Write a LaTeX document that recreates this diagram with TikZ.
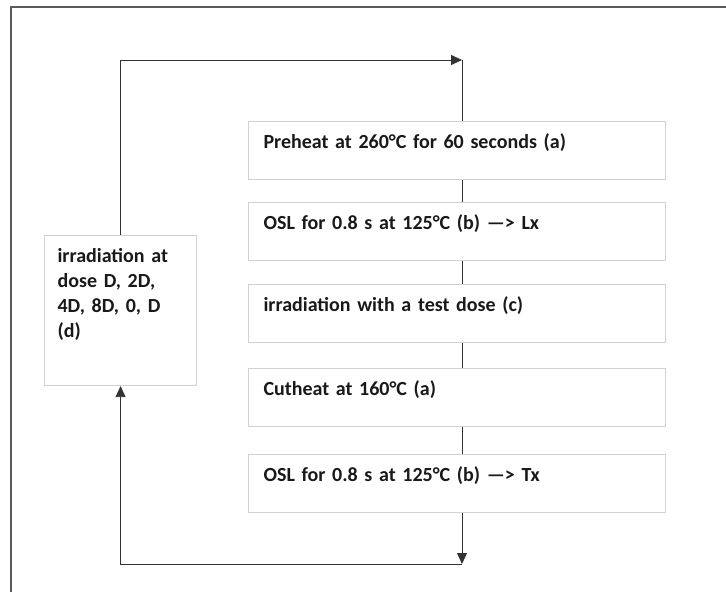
\documentclass[tikz,border=0pt]{standalone}
\usepackage{fontspec}
\setmainfont{Carlito}
\usetikzlibrary{arrows.meta}
\definecolor{boxgray}{HTML}{D2D2D2}
\definecolor{linegray}{HTML}{333333}
\definecolor{framegray}{HTML}{5A5A5A}
\begin{document}
\begin{tikzpicture}[x=1pt,y=-1pt,
  every node/.style={font=\fontsize{20pt}{25pt}\selectfont\bfseries, text=black!90},
  stepbox/.style={draw=boxgray, line width=1.1pt, anchor=north west,
    inner xsep=15pt, inner ysep=0pt, text width=387pt, align=left,
    text height=27pt, text depth=31pt},
  dosebox/.style={draw=boxgray, line width=1.1pt, anchor=north west,
    inner xsep=13pt, inner ysep=0pt, text width=126pt, align=left,
    text height=27pt, text depth=123pt},
  conn/.style={draw=linegray, line width=0.8pt},
  tip/.style={-{Triangle[length=11pt,width=10pt]}}
]
\useasboundingbox (0,0) rectangle (726,592);
% frame
\draw[framegray, line width=1.3pt] (11,592) -- (11,7) -- (726,7);

\node[stepbox] (b1) at (248,121) {Preheat at 260°C for 60 seconds (a)};
\node[stepbox] (b2) at (248,202) {OSL for 0.8 s at 125°C (b) —> Lx};
\node[stepbox] (b3) at (248,284) {irradiation with a test dose (c)};
\node[stepbox] (b4) at (248,368) {Cutheat at 160°C (a)};
\node[stepbox] (b5) at (248,454) {OSL for 0.8 s at 125°C (b) —> Tx};
\node[dosebox] (d) at (44,235) {irradiation at\\dose D, 2D,\\4D, 8D, 0, D\\(d)};

\coordinate (tr) at (462,60);
\coordinate (br) at (462,564);

\draw[conn,tip] (d.north) |- (tr);
\draw[conn] (tr) -- (tr |- b1.north);
\draw[conn] (b1.south -| tr) -- (b2.north -| tr);
\draw[conn] (b2.south -| tr) -- (b3.north -| tr);
\draw[conn] (b3.south -| tr) -- (b4.north -| tr);
\draw[conn] (b4.south -| tr) -- (b5.north -| tr);
\draw[conn,tip] (b5.south -| tr) -- (br);
\draw[conn,tip] (br) -| (d.south);
\end{tikzpicture}
\end{document}
